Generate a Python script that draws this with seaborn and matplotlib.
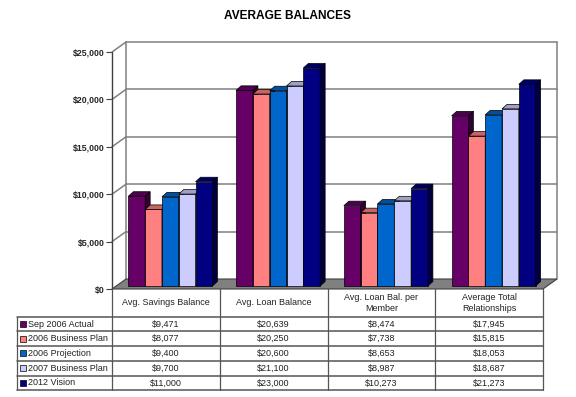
import matplotlib
matplotlib.use("Agg")
import matplotlib.pyplot as plt
from matplotlib.patches import Polygon, Rectangle
from matplotlib.lines import Line2D
from matplotlib.transforms import Affine2D
import matplotlib.colors as mcolors
import seaborn as sns
import pandas as pd

categories = ["Avg. Savings Balance", "Avg. Loan Balance",
              "Avg. Loan Bal. per\nMember", "Average Total\nRelationships"]
series = ["Sep 2006 Actual", "2006 Business Plan", "2006 Projection",
          "2007 Business Plan", "2012 Vision"]
sep_2006_actual = [9471, 20639, 8474, 17945]
business_plan_2006 = [8077, 20250, 7738, 15815]
projection_2006 = [9400, 20600, 8653, 18053]
business_plan_2007 = [9700, 21100, 8987, 18687]
vision_2012 = [11000, 23000, 10273, 21273]
colors = ["#660066", "#FF8080", "#0066CC", "#CCCCFF", "#000080"]
yticks = [0, 5000, 10000, 15000, 20000, 25000]

values = [sep_2006_actual, business_plan_2006, projection_2006,
          business_plan_2007, vision_2012]
df = pd.DataFrame([{"category": c, "series": s, "value": v[i]}
                   for s, v in zip(series, values)
                   for i, c in enumerate(categories)])

sns.set_theme(style="white")
plt.rcParams["font.family"] = ["Liberation Sans", "DejaVu Sans"]

W, H = 576, 397
fig = plt.figure(figsize=(W / 100, H / 100), dpi=100)
ax = fig.add_axes([112 / W, (H - 289) / H, 431 / W, 237 / H])
ax.patch.set_visible(False)

sns.barplot(data=df, x="category", y="value", hue="series", hue_order=series,
            order=categories, palette=colors, saturation=1, width=0.78, gap=0,
            edgecolor="black", linewidth=0.5, errorbar=None, legend=False, ax=ax)

ax.set_xlim(-0.5, 3.5)
ax.set_ylim(0, 25000)
ax.set_xticks([])
ax.set_xlabel("")
ax.set_ylabel("")
for s in ax.spines.values():
    s.set_visible(False)
ax.set_yticks(yticks, labels=[f"${v:,}" for v in yticks])
ax.tick_params(axis="y", left=True, length=4, width=0.8, color="#404040",
               pad=1.5, labelsize=6.3)
for lab in ax.get_yticklabels():
    lab.set_fontweight("bold")


def px_to_data(dx, dy):
    x0, y0 = ax.transData.transform((0, 0))
    return ax.transData.inverted().transform((x0 + dx, y0 + dy))


wx, wy = px_to_data(14, 10)     # depth of the back wall
sx, sy = px_to_data(4.5, 3)     # bars sit mid-depth
bx, by = px_to_data(5, 4.5)     # bar depth

grid_c = "#808080"
# back wall + side wall
for v in yticks[1:]:
    ax.plot([-0.5 + wx, 3.5 + wx], [v + wy, v + wy], color=grid_c, lw=1.1,
            clip_on=False, zorder=1)
    ax.plot([-0.5, -0.5 + wx], [v, v + wy], color=grid_c, lw=1.1,
            clip_on=False, zorder=1)
ax.plot([-0.5 + wx] * 2, [wy, 25000 + wy], color=grid_c, lw=1.1, clip_on=False, zorder=1)
ax.plot([3.5 + wx] * 2, [wy, 25000 + wy], color=grid_c, lw=1.1, clip_on=False, zorder=1)
ax.plot([-0.5, -0.5], [0, 25000], color="#404040", lw=1.0, clip_on=False, zorder=1.5)

# floor
ax.add_patch(Polygon([(-0.5, 0), (3.5, 0), (3.5 + wx, wy), (-0.5 + wx, wy)],
                     closed=True, facecolor="#808080", edgecolor="#404040",
                     lw=0.8, clip_on=False, zorder=2))

# give the bars a 3D look (seaborn adds them hue by hue, left to right)
for i, p in enumerate(list(ax.patches)):
    if not isinstance(p, Rectangle):
        continue
    h = p.get_height()
    if h <= 0:
        continue
    x0 = p.get_x() + sx
    w = p.get_width()
    x1 = x0 + w
    y0 = sy
    y1 = sy + h
    p.set_x(x0)
    p.set_y(y0)
    z = 3 + i * 0.01
    p.set_zorder(z)
    p.set_clip_on(False)
    base = mcolors.to_rgb(p.get_facecolor())
    top_c = tuple(c * 0.78 for c in base)
    side_c = tuple(c * 0.5 for c in base)
    ax.add_patch(Polygon([(x0, y1), (x0 + bx, y1 + by), (x1 + bx, y1 + by), (x1, y1)],
                         closed=True, facecolor=top_c, edgecolor="black", lw=0.5,
                         clip_on=False, zorder=z))
    ax.add_patch(Polygon([(x1, y0), (x1 + bx, y0 + by), (x1 + bx, y1 + by), (x1, y1)],
                         closed=True, facecolor=side_c, edgecolor="black", lw=0.5,
                         clip_on=False, zorder=z))

fig.text(287 / W, 1 - 16 / H, "AVERAGE BALANCES", ha="center", va="center",
         fontsize=8.6, fontweight="bold", color="black")

# data table under the plot, in pixel coordinates from the top-left corner
px = Affine2D().scale(1 / W, -1 / H).translate(0, 1) + fig.transFigure
cols = [ax.transData.transform((i - 0.5, 0))[0] for i in range(5)]
head_top = H - ax.transData.transform((0, 0))[1]
head_bot = 316.7
row_h = 14.7
left = 17
bottom = head_bot + row_h * len(series)
line_c = "#555555"

for x in cols:
    fig.add_artist(Line2D([x, x], [head_top, bottom], color=line_c, lw=0.9, transform=px))
fig.add_artist(Line2D([left, left], [head_bot, bottom], color=line_c, lw=0.9, transform=px))
for k in range(len(series) + 1):
    y = head_bot + k * row_h
    fig.add_artist(Line2D([left, cols[-1]], [y, y], color=line_c, lw=1.1, transform=px))

for j, cat in enumerate(categories):
    fig.text((cols[j] + cols[j + 1]) / 2, (head_top + head_bot) / 2, cat,
             ha="center", va="center", fontsize=6.5, linespacing=1.3,
             color="#222222", transform=px)

for k, (name, vals, col) in enumerate(zip(series, values, colors)):
    yc = head_bot + (k + 0.5) * row_h
    fig.add_artist(Rectangle((20, yc - 3), 6, 6, facecolor=col, edgecolor="black",
                             lw=0.5, transform=px))
    fig.text(28.5, yc, name, ha="left", va="center", fontsize=6.5,
             color="#222222", transform=px)
    for j, v in enumerate(vals):
        fig.text((cols[j] + cols[j + 1]) / 2, yc, f"${v:,}", ha="center",
                 va="center", fontsize=6.5, color="#222222", transform=px)

fig.savefig("out.png", dpi=100)
